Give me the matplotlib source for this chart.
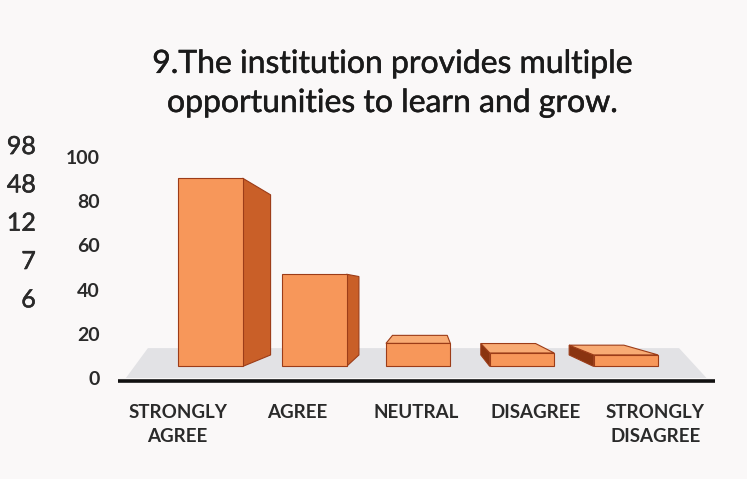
import matplotlib.pyplot as plt
import matplotlib.patheffects as pe
from matplotlib.patches import Polygon

# survey answers for question 9
categories = ['STRONGLY\nAGREE', 'AGREE', 'NEUTRAL', 'DISAGREE', 'STRONGLY\nDISAGREE']
values = [98, 48, 12, 7, 6]
y_ticks = [0, 20, 40, 60, 80, 100]
title = '9.The institution provides multiple\nopportunities to learn and grow.'

plt.rcParams['font.family'] = ['Lato', 'DejaVu Sans']

# fake 3D: points move toward a vanishing point as depth z grows
vp = (2.11, 40)
def proj(x, y, z):
    return (x + (vp[0] - x) * z, y + (vp[1] - y) * z)

front_col = '#f7975a'
side_col = '#c95f28'
top_col = '#f8ab74'
edge_col = '#9c3c18'
half_w = 0.31
z0, z1 = 0.13, 0.26
heavier = [pe.withStroke(linewidth=0.35, foreground='#1a1a1a')]

fig = plt.figure(figsize=(7.47, 4.79), dpi=100, facecolor='#faf8f8')
ax = fig.add_axes([0.158, 0.211, 0.799, 0.461])
ax.set_facecolor('none')
ax.set_xlim(-0.5, len(values) - 0.5)
ax.set_ylim(0, 100)

# grey floor
floor = Polygon([(-0.45, -1.2), (len(values) - 0.55, -1.2),
                 (len(values) - 0.8, 13.5), (-0.25, 13.5)],
                closed=True, facecolor='#e2e2e5', edgecolor='none', zorder=1)
ax.add_patch(floor)

for i, v in enumerate(values):
    xl, xr = i - half_w, i + half_w
    # side face (the one facing the vanishing point)
    if xr < vp[0]:
        side = [proj(xr, 0, z0), proj(xr, v, z0), proj(xr, v, z1), proj(xr, 0, z1)]
        ax.add_patch(Polygon(side, facecolor=side_col, edgecolor=edge_col, lw=0.8, zorder=2))
    elif xl > vp[0]:
        side = [proj(xl, 0, z0), proj(xl, v, z0), proj(xl, v, z1), proj(xl, 0, z1)]
        ax.add_patch(Polygon(side, facecolor='#8a3410', edgecolor=edge_col, lw=0.8, zorder=2))
    # top face, visible when the bar is below eye level
    if v < vp[1]:
        top = [proj(xl, v, z0), proj(xr, v, z0), proj(xr, v, z1), proj(xl, v, z1)]
        ax.add_patch(Polygon(top, facecolor=top_col, edgecolor=edge_col, lw=0.8, zorder=3))
    front = [proj(xl, 0, z0), proj(xr, 0, z0), proj(xr, v, z0), proj(xl, v, z0)]
    ax.add_patch(Polygon(front, facecolor=front_col, edgecolor=edge_col, lw=0.8, zorder=4))

# axis line
ax.plot([-0.5, len(values) - 0.5], [-1.6, -1.6], color='#111111', lw=2.6,
        clip_on=False, solid_capstyle='butt', zorder=5)

for s in ax.spines.values():
    s.set_visible(False)
ax.set_xticks(range(len(categories)))
ax.set_xticklabels(categories, fontsize=13.5, fontweight='bold', color='#2a2a2a',
                   linespacing=1.45)
ax.set_yticks(y_ticks)
ax.set_yticklabels([str(t) for t in y_ticks], fontsize=14, fontweight='bold', color='#2a2a2a')
ax.tick_params(axis='both', length=0)
ax.tick_params(axis='x', pad=19)
ax.tick_params(axis='y', pad=13)

fig.text(0.526, 0.898, title, ha='center', va='top', fontsize=23,
         color='#1a1a1a', linespacing=1.38, path_effects=heavier)

# the raw counts written at the left margin
for k, v in enumerate(values):
    fig.text(0.048, 0.694 - k * 0.08, str(v), ha='right', va='center',
             fontsize=18, color='#2a2a2a', path_effects=heavier)

fig.savefig('out.png', dpi=100, facecolor=fig.get_facecolor())
